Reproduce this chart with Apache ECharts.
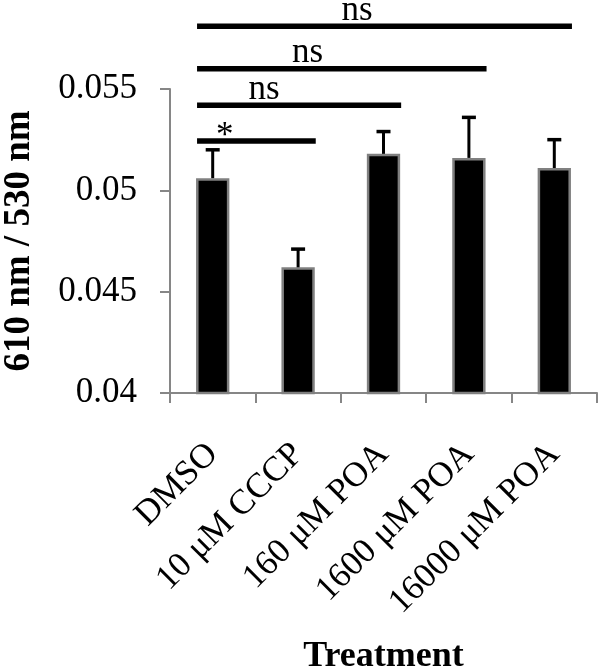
<!DOCTYPE html>
<html>
<head>
<meta charset="utf-8">
<script src="https://cdn.jsdelivr.net/npm/echarts@6/dist/echarts.min.js"></script>
<style>html,body{margin:0;padding:0;background:#fff;}#c{width:600px;height:668px;}</style>
</head>
<body>
<div id="c"></div>
<script>
// ---- data ----
const categories = ['DMSO', '10 μM CCCP', '160 μM POA', '1600 μM POA', '16000 μM POA'];
const means = [0.0506, 0.0462, 0.0518, 0.0516, 0.0511];
const errors = [0.0014, 0.0009, 0.0011, 0.0020, 0.0014];
const yTickLabels = ['0.04', '0.045', '0.05', '0.055'];
const sigStart = [0, 0, 0, 0];
const sigEnd = [1, 2, 3, 4];
const sigLevel = [0.05244, 0.0542, 0.0560, 0.0581];
const sigText = ['*', 'ns', 'ns', 'ns'];

// ---- layout constants ----
const FONT = '"Liberation Serif", "Times New Roman", serif';
const BAR_FRAC = 0.39;
const sigLabelShift = [0.14, 0.60, 1.11, 1.69]; // label centre, in categories from start centre
const sigLabelDy = [16, 5, 5, 5];

const chart = echarts.init(document.getElementById('c'), null, {renderer: 'canvas'});
const yMin = 0.04, yMax = 0.055, yStep = 0.005;

chart.setOption({
  animation: false,
  backgroundColor: '#fff',
  grid: {left: 170, right: 3, top: 89, bottom: 275, containLabel: false, outerBoundsMode: 'none'},
  xAxis: {
    type: 'category',
    data: categories,
    name: 'Treatment',
    nameLocation: 'middle',
    nameGap: 246,
    nameTextStyle: {fontFamily: FONT, fontSize: 36, fontWeight: 'bold', color: '#000'},
    axisLine: {lineStyle: {color: '#868686', width: 2}},
    axisTick: {show: true, length: 10, lineStyle: {color: '#868686', width: 2}},
    axisLabel: {rotate: 45, margin: 56, fontFamily: FONT, fontSize: 35, color: '#000', interval: 0}
  },
  yAxis: {
    type: 'value',
    min: yMin, max: yMax, interval: yStep,
    name: '610 nm / 530 nm',
    nameLocation: 'middle',
    nameGap: 132,
    nameTextStyle: {fontFamily: FONT, fontSize: 37, fontWeight: 'bold', color: '#000'},
    axisLine: {show: true, lineStyle: {color: '#868686', width: 2}},
    axisTick: {show: true, length: 10, lineStyle: {color: '#868686', width: 2}},
    splitLine: {show: false},
    axisLabel: {
      margin: 33, fontFamily: FONT, fontSize: 35, color: '#000',
      formatter: function (v) {
        const idx = Math.round((v - yMin) / yStep);
        return yTickLabels[idx] !== undefined ? yTickLabels[idx] : '';
      }
    }
  },
  series: [
    {
      type: 'bar',
      data: means,
      barWidth: (BAR_FRAC * 100) + '%',
      itemStyle: {color: '#000', borderColor: '#808080', borderWidth: 2.5},
      z: 2
    },
    {
      type: 'custom',
      data: means.map((m, i) => [i, m, errors[i]]),
      z: 3,
      renderItem: function (params, api) {
        const x = api.value(0), m = api.value(1), e = api.value(2);
        const p0 = api.coord([x, m]);
        const p1 = api.coord([x, m + e]);
        const half = 7;
        return {
          type: 'group',
          children: [
            {type: 'line', shape: {x1: p0[0], y1: p0[1], x2: p1[0], y2: p1[1]}, style: {stroke: '#000', lineWidth: 3}},
            {type: 'line', shape: {x1: p1[0] - half, y1: p1[1], x2: p1[0] + half, y2: p1[1]}, style: {stroke: '#000', lineWidth: 3.5}}
          ]
        };
      }
    },
    {
      type: 'custom',
      clip: false,
      data: sigEnd.map((e, i) => [sigStart[i], e, sigLevel[i], i]),
      z: 4,
      renderItem: function (params, api) {
        const s = api.value(0), e = api.value(1), lv = api.value(2), i = api.value(3);
        const ps = api.coord([s, lv]);
        const pe = api.coord([e, lv]);
        const w = api.size([1, 0])[0];
        const half = w * BAR_FRAC / 2 + 1;
        const lx = ps[0] + sigLabelShift[i] * w;
        return {
          type: 'group',
          children: [
            {type: 'line', shape: {x1: ps[0] - half + 2, y1: ps[1], x2: pe[0] + half, y2: pe[1]}, style: {stroke: '#000', lineWidth: 5.5}},
            {type: 'text', x: lx, y: ps[1] - 3 + sigLabelDy[i],
             style: {text: sigText[i], fontFamily: FONT, fontSize: 35, fill: '#000', align: 'center', verticalAlign: 'bottom'}}
          ]
        };
      }
    }
  ]
});
</script>
</body>
</html>
